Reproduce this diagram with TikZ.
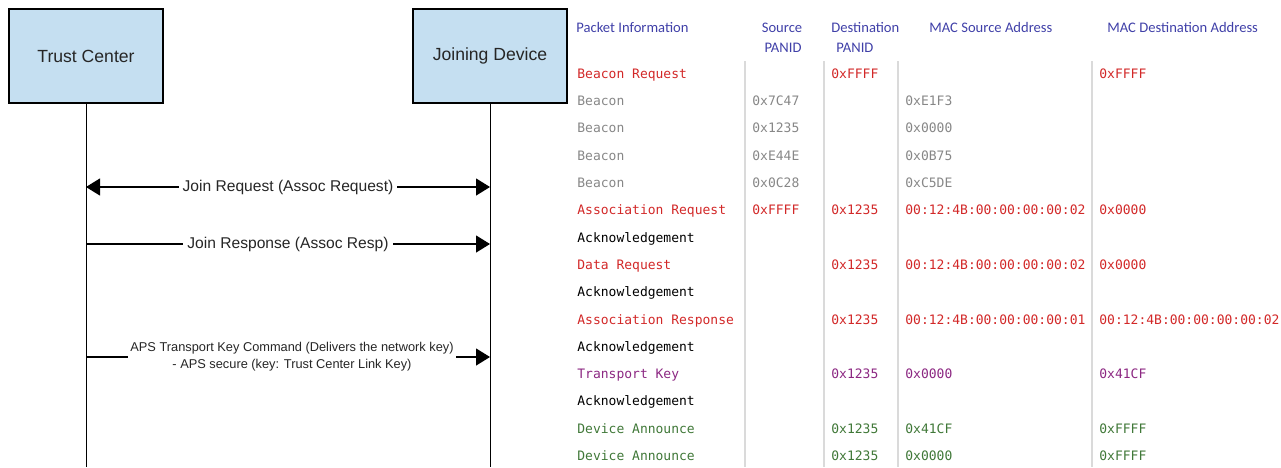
\documentclass[tikz,border=0pt]{standalone}
\usepackage{fontspec}
\setmainfont{Liberation Sans}
\newfontfamily\hdrfont{Carlito}
\newfontfamily\cellfont{DejaVu Sans Mono}
\usepackage{tikz}
\usetikzlibrary{arrows.meta}

\definecolor{boxblue}{RGB}{197,223,241}
\definecolor{hdrblue}{RGB}{64,64,168}
\definecolor{pkred}{RGB}{210,40,40}
\definecolor{pkgray}{RGB}{135,135,135}
\definecolor{pkpurple}{RGB}{140,40,130}
\definecolor{pkgreen}{RGB}{64,120,56}
\definecolor{sepgray}{RGB}{218,218,218}

\begin{document}
\begin{tikzpicture}[
  x=0.5pt,y=-0.5pt,
  >={Triangle[length=7pt,width=8.5pt]},
  actor/.style={draw=black,line width=1pt,fill=boxblue,minimum width=77pt,minimum height=47pt,
    text=black!85,font=\fontsize{8.8}{10}\selectfont},
  life/.style={draw=black,line width=0.5pt},
  msg/.style={draw=black,line width=0.6pt},
  lbl/.style={fill=white,inner xsep=2pt,inner ysep=1pt,text=black!85,font=\fontsize{7.8}{9}\selectfont},
  hdr/.style={anchor=west,inner sep=0pt,text height=4.6pt,text depth=0pt,text=hdrblue,
    font=\hdrfont\fontsize{7.3}{9}\selectfont},
  cell/.style={anchor=west,inner sep=0pt,text height=4.7pt,text depth=0pt,
    font=\cellfont\fontsize{6.5}{8}\selectfont},
  sep/.style={draw=sepgray,line width=0.75pt}
]
\useasboundingbox (0,0) rectangle (1281,467);

% Actors and lifelines
\node[actor] (tc) at (86,56) {Trust Center};
\node[actor] (jd) at (490,56) {Joining Device};
\coordinate (tcEnd) at (86,467);
\coordinate (jdEnd) at (490,467);
\draw[life] (tc) -- (tcEnd);
\draw[life] (jd) -- (jdEnd);

% Messages
\coordinate (tcA) at (86,187);
\coordinate (jdA) at (490,187);
\coordinate (tcB) at (86,244);
\coordinate (jdB) at (490,244);
\coordinate (tcC) at (86,357);
\coordinate (jdC) at (490,357);

\draw[msg,<->] (tcA) -- node[lbl] {Join Request (Assoc Request)} (jdA);
\draw[msg,->] (tcB) -- node[lbl] {Join Response (Assoc Resp)} (jdB);
\draw[msg,->] (tcC) -- node[lbl,align=center,inner xsep=1pt,inner ysep=0pt,
    font=\fontsize{6.4}{8.5}\selectfont,xshift=2pt]
  {APS Transport Key Command (Delivers the network key)\\- APS secure (key: Trust Center Link Key)} (jdC);

% Column separators
\coordinate (s1t) at (745,61);  \coordinate (s1b) at (745,467);
\coordinate (s2t) at (824,61);  \coordinate (s2b) at (824,467);
\coordinate (s3t) at (898,61);  \coordinate (s3b) at (898,467);
\coordinate (s4t) at (1092,61); \coordinate (s4b) at (1092,467);
\draw[sep] (s1t) -- (s1b);
\draw[sep] (s2t) -- (s2b);
\draw[sep] (s3t) -- (s3b);
\draw[sep] (s4t) -- (s4b);

% Header
\node[hdr] (hPkt) at (576,28) {Packet Information};
\node[hdr,anchor=center] (hSrc) at (782,28) {Source};
\node[hdr,anchor=center] (hSrcB) at (783,48) {PANID};
\node[hdr] (hDst) at (831,28) {Destination};
\node[hdr] (hDstB) at (836,48) {PANID};
\node[hdr] (hMacS) at (929,28) {MAC Source Address};
\node[hdr] (hMacD) at (1107,28) {MAC Destination Address};

% Packet rows
\node[cell,text=pkred] (p1) at (577,74) {Beacon Request};
\node[cell,text=pkred] (p1d) at (831,74) {0xFFFF};
\node[cell,text=pkred] (p1md) at (1099,74) {0xFFFF};

\node[cell,text=pkgray] (p2) at (577,101) {Beacon};
\node[cell,text=pkgray] (p2s) at (752,101) {0x7C47};
\node[cell,text=pkgray] (p2ms) at (905,101) {0xE1F3};

\node[cell,text=pkgray] (p3) at (577,128) {Beacon};
\node[cell,text=pkgray] (p3s) at (752,128) {0x1235};
\node[cell,text=pkgray] (p3ms) at (905,128) {0x0000};

\node[cell,text=pkgray] (p4) at (577,155.5) {Beacon};
\node[cell,text=pkgray] (p4s) at (752,155.5) {0xE44E};
\node[cell,text=pkgray] (p4ms) at (905,155.5) {0x0B75};

\node[cell,text=pkgray] (p5) at (577,183) {Beacon};
\node[cell,text=pkgray] (p5s) at (752,183) {0x0C28};
\node[cell,text=pkgray] (p5ms) at (905,183) {0xC5DE};

\node[cell,text=pkred] (p6) at (577,210) {Association Request};
\node[cell,text=pkred] (p6s) at (752,210) {0xFFFF};
\node[cell,text=pkred] (p6d) at (831,210) {0x1235};
\node[cell,text=pkred] (p6ms) at (905,210) {00:12:4B:00:00:00:00:02};
\node[cell,text=pkred] (p6md) at (1099,210) {0x0000};

\node[cell,text=black] (p7) at (577,237.5) {Acknowledgement};

\node[cell,text=pkred] (p8) at (577,265) {Data Request};
\node[cell,text=pkred] (p8d) at (831,265) {0x1235};
\node[cell,text=pkred] (p8ms) at (905,265) {00:12:4B:00:00:00:00:02};
\node[cell,text=pkred] (p8md) at (1099,265) {0x0000};

\node[cell,text=black] (p9) at (577,292) {Acknowledgement};

\node[cell,text=pkred] (p10) at (577,319.5) {Association Response};
\node[cell,text=pkred] (p10d) at (831,319.5) {0x1235};
\node[cell,text=pkred] (p10ms) at (905,319.5) {00:12:4B:00:00:00:00:01};
\node[cell,text=pkred] (p10md) at (1099,319.5) {00:12:4B:00:00:00:00:02};

\node[cell,text=black] (p11) at (577,346.5) {Acknowledgement};

\node[cell,text=pkpurple] (p12) at (577,374) {Transport Key};
\node[cell,text=pkpurple] (p12d) at (831,374) {0x1235};
\node[cell,text=pkpurple] (p12ms) at (905,374) {0x0000};
\node[cell,text=pkpurple] (p12md) at (1099,374) {0x41CF};

\node[cell,text=black] (p13) at (577,401) {Acknowledgement};

\node[cell,text=pkgreen] (p14) at (577,428.5) {Device Announce};
\node[cell,text=pkgreen] (p14d) at (831,428.5) {0x1235};
\node[cell,text=pkgreen] (p14ms) at (905,428.5) {0x41CF};
\node[cell,text=pkgreen] (p14md) at (1099,428.5) {0xFFFF};

\node[cell,text=pkgreen] (p15) at (577,455.5) {Device Announce};
\node[cell,text=pkgreen] (p15d) at (831,455.5) {0x1235};
\node[cell,text=pkgreen] (p15ms) at (905,455.5) {0x0000};
\node[cell,text=pkgreen] (p15md) at (1099,455.5) {0xFFFF};

\end{tikzpicture}
\end{document}
